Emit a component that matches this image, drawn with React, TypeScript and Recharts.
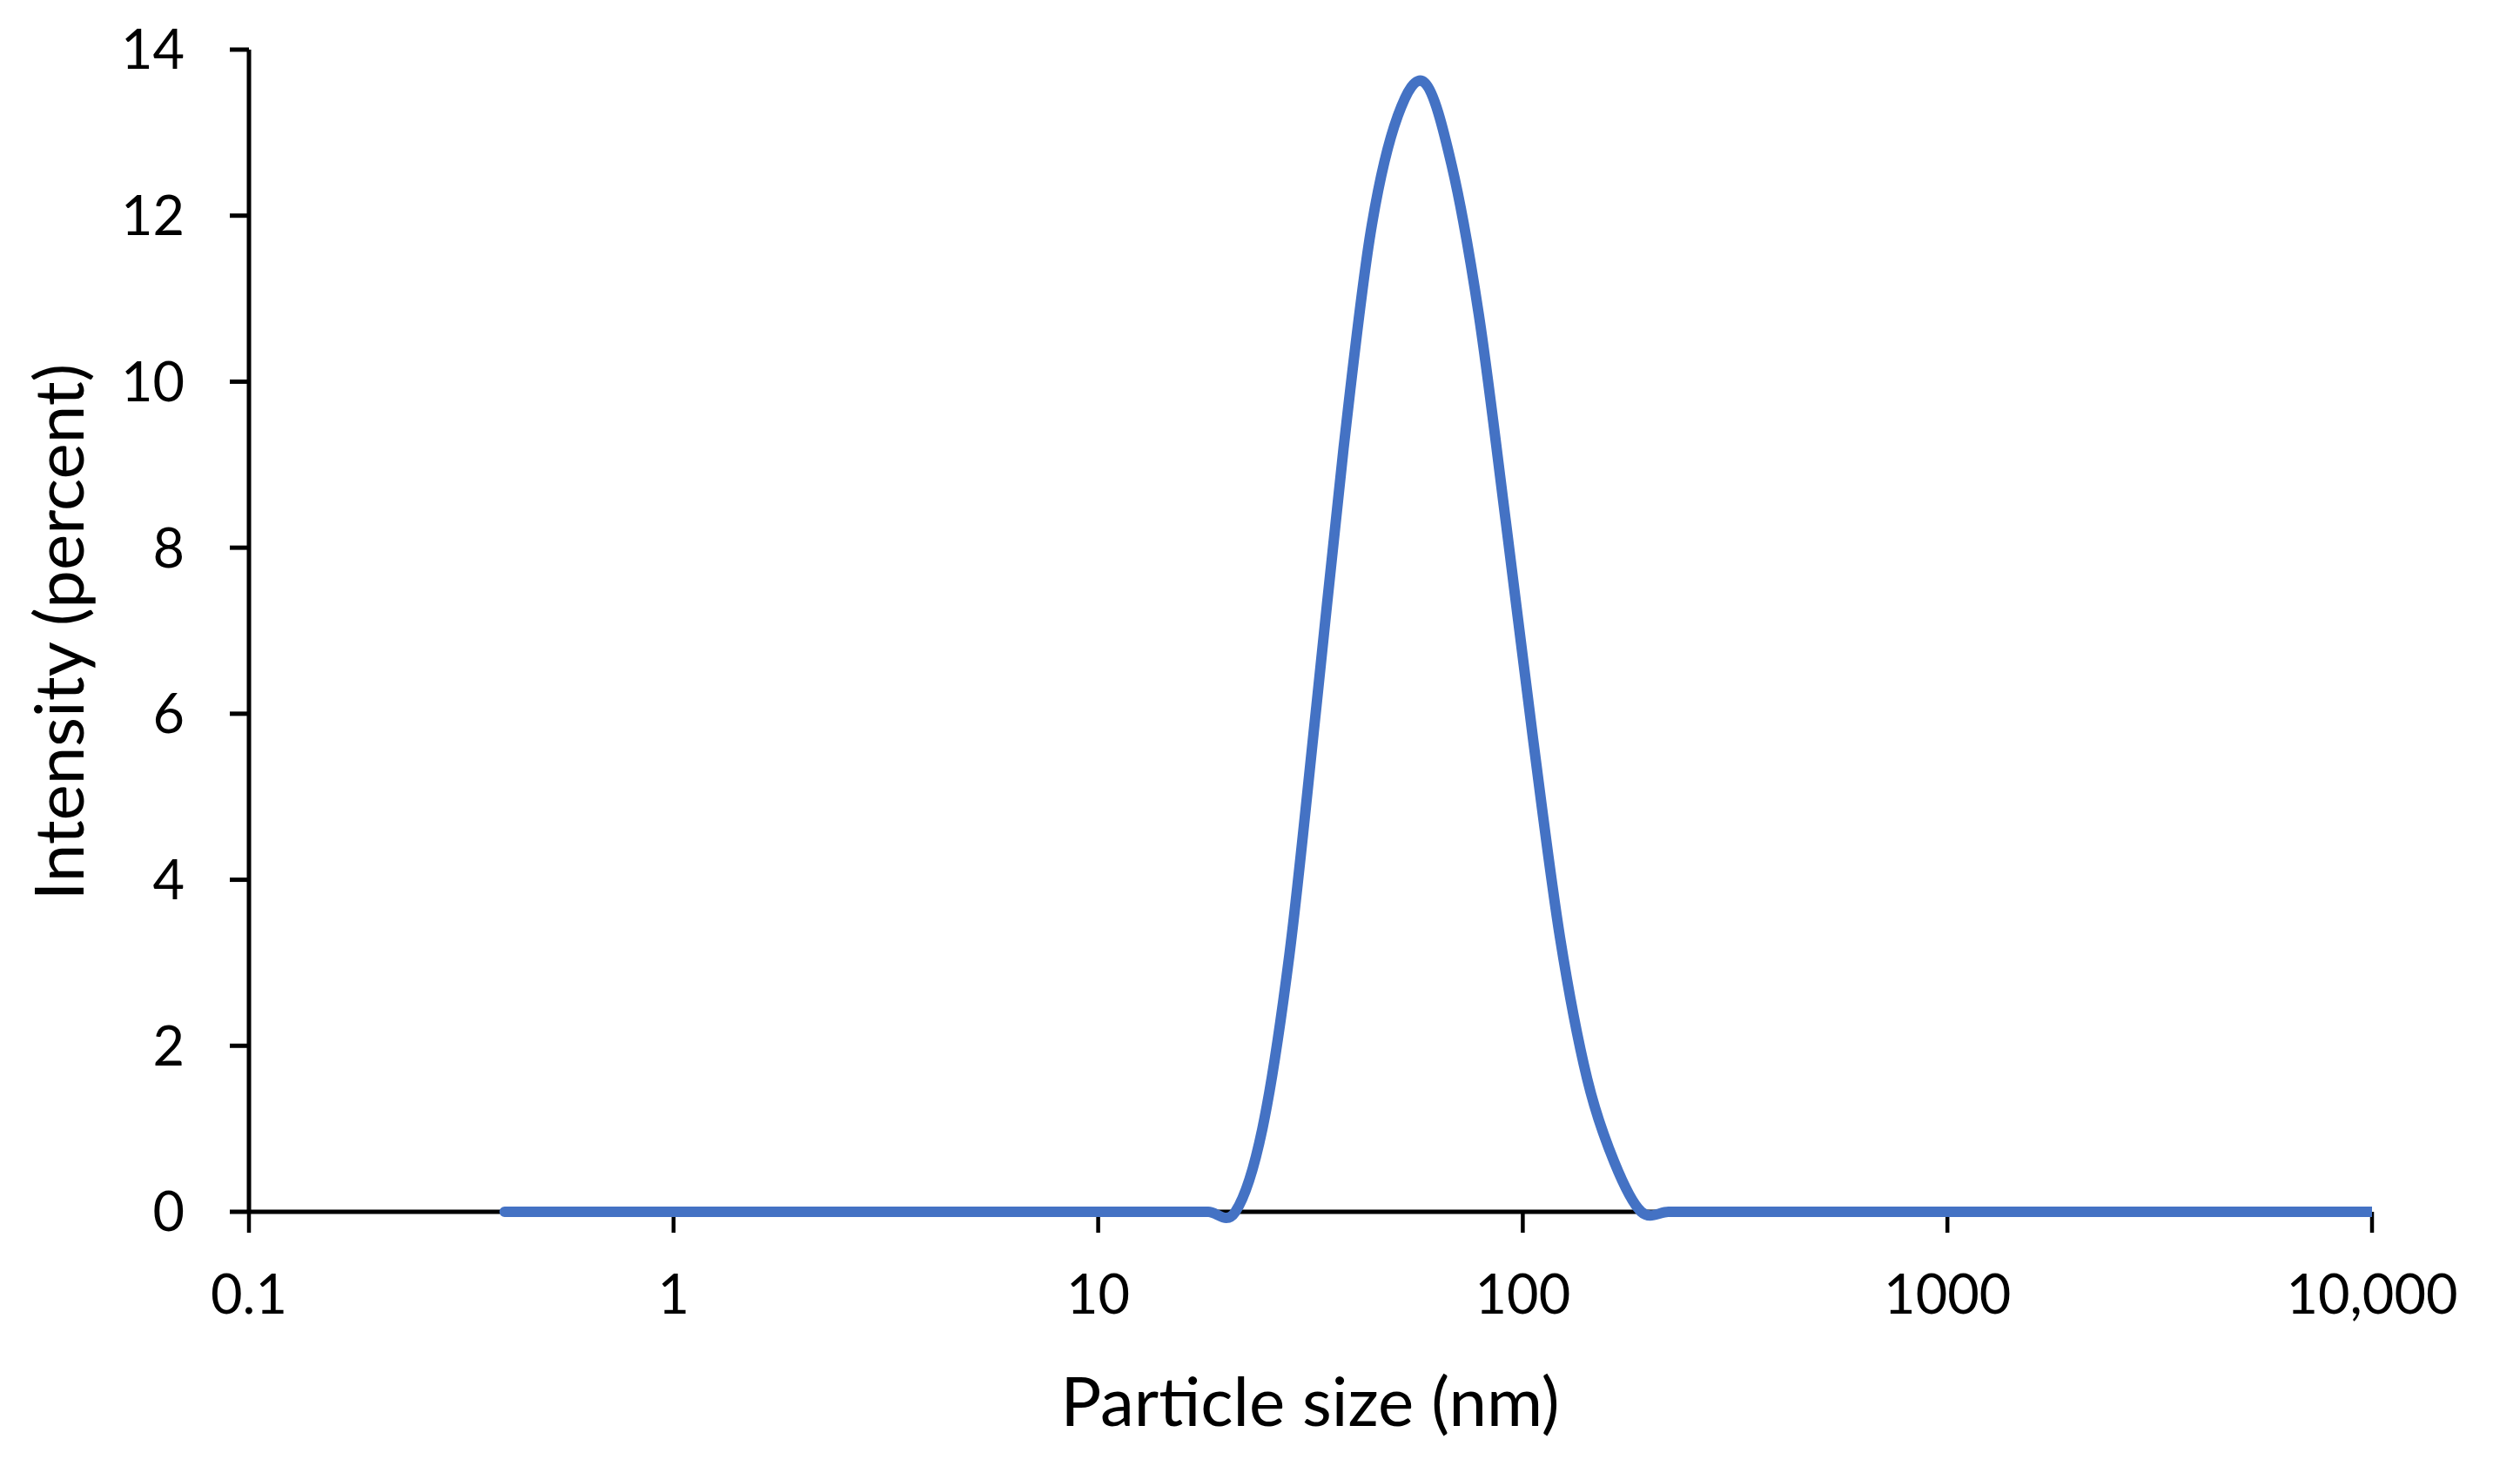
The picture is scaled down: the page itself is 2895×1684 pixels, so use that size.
import React from "react";
import { LineChart, Line, XAxis, YAxis, Customized } from "recharts";

// Particle size bins (nm), Malvern-style log spacing
const sizes: number[] = [
  0.4, 0.4632, 0.5365, 0.6213, 0.7195, 0.8332, 0.9649, 1.117, 1.294, 1.499,
  1.736, 2.01, 2.328, 2.696, 3.122, 3.615, 4.187, 4.849, 5.615, 6.503,
  7.531, 8.721, 10.1, 11.7, 13.54, 15.69, 18.17, 21.04, 24.36, 28.21,
  32.67, 37.84, 43.82, 50.75, 58.77, 68.06, 78.82, 91.28, 105.7, 122.4,
  141.8, 164.2, 190.1, 220.2, 255, 295.3, 342, 396.1, 458.7, 531.2,
  615.1, 712.4, 825, 955.4, 1106, 1281, 1484, 1718, 1990, 2305,
  2669, 3091, 3580, 4145, 4801, 5560, 6439, 7456, 8635, 10000,
];

// Intensity (percent) per bin
const intensity: number[] = [
  0, 0, 0, 0, 0, 0, 0, 0, 0, 0,
  0, 0, 0, 0, 0, 0, 0, 0, 0, 0,
  0, 0, 0, 0, 0, 0, 0, 0, 1.0, 3.1,
  6.1, 9.2, 11.8, 13.2, 13.6, 12.6, 10.8, 8.3, 5.7, 3.3,
  1.6, 0.6, 0, 0, 0, 0, 0, 0, 0, 0,
  0, 0, 0, 0, 0, 0, 0, 0, 0, 0,
  0, 0, 0, 0, 0, 0, 0, 0, 0, 0,
];

const xTicks: number[] = [0.1, 1, 10, 100, 1000, 10000];
const xTickLabels: string[] = ["0.1", "1", "10", "100", "1000", "10,000"];
const yTicks: number[] = [0, 2, 4, 6, 8, 10, 12, 14];

const xTitle = "Particle size (nm)";
const yTitle = "Intensity (percent)";

const data = sizes.map((s, i) => ({ size: s, intensity: intensity[i] }));

// Catmull-Rom style smoothing (similar to Excel's smoothed line)
const smoothCurve = (context: any) => {
  let pts: [number, number][] = [];
  return {
    areaStart() {},
    areaEnd() {},
    lineStart() {
      pts = [];
    },
    lineEnd() {
      const n = pts.length;
      if (n === 0) return;
      context.moveTo(pts[0][0], pts[0][1]);
      if (n === 1) return;
      for (let i = 0; i < n - 1; i++) {
        const p0 = pts[Math.max(0, i - 1)];
        const p1 = pts[i];
        const p2 = pts[i + 1];
        const p3 = pts[Math.min(n - 1, i + 2)];
        context.bezierCurveTo(
          p1[0] + (p2[0] - p0[0]) / 6,
          p1[1] + (p2[1] - p0[1]) / 6,
          p2[0] - (p3[0] - p1[0]) / 6,
          p2[1] - (p3[1] - p1[1]) / 6,
          p2[0],
          p2[1]
        );
      }
    },
    point(x: number, y: number) {
      pts.push([x, y]);
    },
  };
};

const W = 2895;
const H = 1684;
const FONT = "Lato, 'Open Sans', sans-serif";

const Titles = () => (
  <g>
    <text
      x={1505}
      y={1638}
      textAnchor="middle"
      fontSize={78}
      fontFamily={FONT}
      fill="#000"
    >
      {xTitle}
    </text>
    <text
      x={96}
      y={726}
      textAnchor="middle"
      fontSize={78}
      fontFamily={FONT}
      fill="#000"
      transform="rotate(-90 96 726)"
    >
      {yTitle}
    </text>
  </g>
);

export default function App() {
  return (
    <div
      style={{
        position: "absolute",
        left: 0,
        top: 0,
        width: W,
        height: H,
        background: "#fff",
      }}
    >
      <LineChart
        width={W}
        height={H}
        data={data}
        margin={{ top: 57, right: 170, bottom: 92, left: 86 }}
        style={{ fontFamily: FONT }}
      >
        <XAxis
          dataKey="size"
          type="number"
          scale="log"
          domain={[0.1, 10000]}
          allowDataOverflow
          ticks={xTicks}
          interval={0}
          tickFormatter={(v: number) => xTickLabels[xTicks.indexOf(v)] ?? String(v)}
          height={200}
          tickSize={24}
          tickMargin={48}
          axisLine={{ stroke: "#000", strokeWidth: 5 }}
          tickLine={{ stroke: "#000", strokeWidth: 4.5 }}
          tick={{ fontSize: 63, fill: "#000", fontFamily: FONT }}
        />
        <YAxis
          type="number"
          domain={[0, 14]}
          ticks={yTicks}
          interval={0}
          width={200}
          tickSize={22}
          tickMargin={52}
          axisLine={{ stroke: "#000", strokeWidth: 5 }}
          tickLine={{ stroke: "#000", strokeWidth: 5 }}
          tick={{ fontSize: 63, fill: "#000", fontFamily: FONT }}
        />
        <Line
          dataKey="intensity"
          type={smoothCurve as any}
          stroke="#4472C4"
          strokeWidth={12}
          strokeLinecap="round"
          strokeLinejoin="round"
          dot={false}
          activeDot={false}
          isAnimationActive={false}
          {...({ zIndex: 1000 } as any)}
        />
        <Customized component={Titles} />
      </LineChart>
    </div>
  );
}
